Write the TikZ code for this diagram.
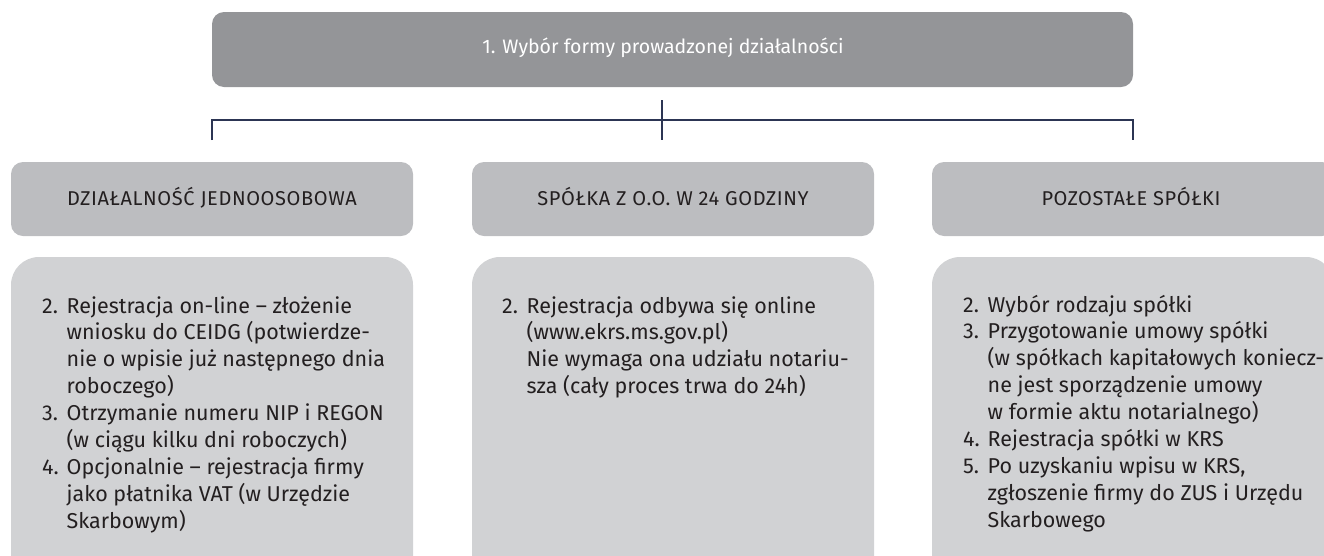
\documentclass[tikz,border=0pt]{standalone}
\usepackage{fontspec}
\setmainfont{Fira Sans}
\newfontfamily\capsfont[LetterSpace=3]{Fira Sans}
\definecolor{topgray}{HTML}{949598}
\definecolor{headgray}{HTML}{BCBDC0}
\definecolor{bodygray}{HTML}{D1D2D4}
\definecolor{linecol}{HTML}{2C3553}
\definecolor{txt}{HTML}{231F20}
\newcommand\itm[1]{\makebox[24.5pt][l]{#1}}
\newcommand\cnt{\hspace*{24.5pt}}
\newcommand\bodyfont{\fontsize{21.5}{26.9}\selectfont}
\tikzset{
  topbox/.style={rectangle, rounded corners=12pt, fill=topgray, minimum width=921pt, minimum height=75pt, inner sep=0pt},
  toptextstyle/.style={inner sep=0pt, anchor=base, text=white, font=\fontsize{19.5}{22}\selectfont},
  headbox/.style={rectangle, rounded corners=12pt, fill=headgray, minimum width=402pt, minimum height=74pt, inner sep=0pt},
  headtext/.style={inner sep=0pt, anchor=base, text=txt, font=\capsfont\fontsize{20}{22}\selectfont},
  bodybox/.style={rectangle, rounded corners=28pt, fill=bodygray, minimum width=402pt, minimum height=343pt, inner sep=0pt},
  bodytext/.style={inner sep=0pt, anchor=base west, text=txt},
  conn/.style={draw=linecol, line width=1.3pt}
}
\begin{document}
\begin{tikzpicture}[x=1pt,y=-1pt]
\useasboundingbox (0,0) rectangle (1324,555);
\clip (0,0) rectangle (1324,555);
% top
\node[topbox] (top) at (672.5,49.5) {};
\node[toptextstyle] (toptext) at (663,53) {1. Wybór formy prowadzonej działalności};
% connectors
\coordinate (jt) at (662,100);
\coordinate (jb) at (662,140);
\coordinate (hl) at (212,120);
\coordinate (hr) at (1133,120);
\coordinate (ll) at (212,140);
\coordinate (rr) at (1133,140);
\draw[conn] (jt) -- (jb);
\draw[conn] (ll) -- (hl) -- (hr) -- (rr);
% headers
\node[headbox] (h1) at (212,199) {};
\node[headbox] (h2) at (673,199) {};
\node[headbox] (h3) at (1133,199) {};
\node[headtext] (h1t) at (212,205) {DZIAŁALNOŚĆ JEDNOOSOBOWA};
\node[headtext] (h2t) at (673,205) {SPÓŁKA Z O.O. W 24 GODZINY};
\node[headtext] (h3t) at (1131,205) {POZOSTAŁE SPÓŁKI};
% bodies
\node[bodybox] (b1) at (212,428.5) {};
\node[bodybox] (b2) at (673,428.5) {};
\node[bodybox] (b3) at (1133,428.5) {};
\node[bodytext] (b1t) at (42,313) {\parbox[t]{370pt}{\bodyfont\raggedright
\itm{2.}Rejestracja on-line – złożenie\\
\cnt wniosku do CEIDG (potwierdze-\\
\cnt nie o wpisie już następnego dnia\\
\cnt roboczego)\\
\itm{3.}Otrzymanie numeru NIP i REGON\\
\cnt (w ciągu kilku dni roboczych)\\
\itm{4.}Opcjonalnie – rejestracja firmy\\
\cnt jako płatnika VAT (w Urzędzie\\
\cnt Skarbowym)}};
\node[bodytext] (b2t) at (502,313) {\parbox[t]{370pt}{\bodyfont\raggedright
\itm{2.}Rejestracja odbywa się online\\
\cnt (www.ekrs.ms.gov.pl)\\
\cnt Nie wymaga ona udziału notariu-\\
\cnt sza (cały proces trwa do 24h)}};
\node[bodytext] (b3t) at (963,312) {\parbox[t]{370pt}{\bodyfont\raggedright
\itm{2.}Wybór rodzaju spółki\\
\itm{3.}Przygotowanie umowy spółki\\
\cnt (w spółkach kapitałowych koniecz-\\
\cnt ne jest sporządzenie umowy\\
\cnt w formie aktu notarialnego)\\
\itm{4.}Rejestracja spółki w KRS\\
\itm{5.}Po uzyskaniu wpisu w KRS,\\
\cnt zgłoszenie firmy do ZUS i Urzędu\\
\cnt Skarbowego}};
\end{tikzpicture}
\end{document}
